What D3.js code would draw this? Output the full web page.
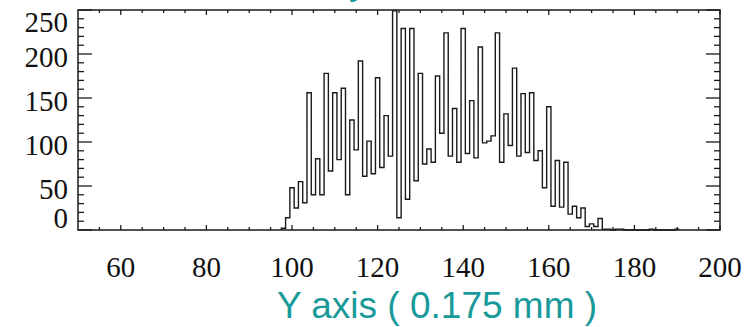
<!DOCTYPE html>
<html>
<head>
<meta charset="utf-8">
<script src="https://cdn.jsdelivr.net/npm/d3@7"></script>
<style>
    html, body { margin: 0; padding: 0; background: #fff; }
    svg { display: block; }
</style>
</head>
<body>
<svg id="chart"></svg>
<script>
// histogram bins (bin centre, count)
const binStart = 98;
const counts = [
    2, 14, 48, 25, 55, 31, 156, 40, 81, 40,
    178, 67, 156, 80, 161, 40, 125, 91, 192, 61,
    101, 64, 173, 71, 130, 84, 249, 14, 229, 35,
    229, 56, 178, 75, 92, 77, 175, 110, 224, 84,
    138, 77, 229, 87, 147, 82, 208, 99, 101, 107,
    224, 77, 132, 96, 184, 84, 155, 88, 156, 79,
    90, 48, 140, 27, 79, 26, 77, 18, 27, 14,
    25, 4, 7, 4, 13, 1, 1, 0, 1, 1,
    0, 0, 0, 0, 0, 0, 1, 0, 0, 0,
    0, 0, 1
];
const xTicks = [60, 80, 100, 120, 140, 160, 180, 200];
const yTicks = [0, 50, 100, 150, 200, 250];
const xTitle = 'Y axis ( 0.175 mm )';

const width = 755;
const height = 327;
const frame = { left: 78, right: 720, top: 10, bottom: 230 };

const svg = d3.select('#chart')
    .attr('width', width)
    .attr('height', height);

const x = d3.scaleLinear().domain([50, 200]).range([frame.left, frame.right]);
const y = d3.scaleLinear().domain([0, 250]).range([frame.bottom, frame.top]);

const teal = '#199a9a';
const serif = '"Liberation Serif", "Times New Roman", serif';

// step outline, edges half a unit either side of each bin centre
const bins = counts.map((c, i) => ({ edge: binStart + i - 0.5, value: c }));
const last = bins[bins.length - 1];
const steps = [{ edge: binStart - 0.5, value: 0 }, ...bins, { edge: last.edge + 1, value: last.value }];

const stepLine = d3.line()
    .x((d) => x(d.edge))
    .y((d) => y(d.value))
    .curve(d3.curveStepAfter);

svg.append('path')
    .datum(steps)
    .attr('d', stepLine)
    .attr('fill', 'none')
    .attr('stroke', '#1a1a1a')
    .attr('stroke-width', 1.4);

// axes: major + minor ticks on all four sides
const xMinor = d3.range(55, 200, 5).filter((v) => v % 20 !== 0);
const yMinor = d3.range(10, 250, 10).filter((v) => v % 50 !== 0);

const tickGroup = svg.append('g')
    .attr('stroke', '#1a1a1a')
    .attr('stroke-width', 1.3);

const addXTicks = (vals, len) => {
    tickGroup.selectAll(null).data(vals).join('line')
        .attr('x1', (d) => x(d)).attr('x2', (d) => x(d))
        .attr('y1', frame.bottom).attr('y2', frame.bottom - len);
    tickGroup.selectAll(null).data(vals).join('line')
        .attr('x1', (d) => x(d)).attr('x2', (d) => x(d))
        .attr('y1', frame.top).attr('y2', frame.top + len);
};
const addYTicks = (vals, len) => {
    tickGroup.selectAll(null).data(vals).join('line')
        .attr('x1', frame.left).attr('x2', frame.left + len)
        .attr('y1', (d) => y(d)).attr('y2', (d) => y(d));
    tickGroup.selectAll(null).data(vals).join('line')
        .attr('x1', frame.right).attr('x2', frame.right - len)
        .attr('y1', (d) => y(d)).attr('y2', (d) => y(d));
};

addXTicks(xTicks, 5);
addXTicks(xMinor, 3);
addYTicks(yTicks, 14);
addYTicks(yMinor, 6);

svg.append('rect')
    .attr('x', frame.left)
    .attr('y', frame.top)
    .attr('width', frame.right - frame.left)
    .attr('height', frame.bottom - frame.top)
    .attr('fill', 'none')
    .attr('stroke', '#1a1a1a')
    .attr('stroke-width', 1.5);

// tick labels
svg.append('g')
    .selectAll('text')
    .data(xTicks)
    .join('text')
    .attr('x', (d) => x(d))
    .attr('y', 277)
    .attr('text-anchor', 'middle')
    .style('font-family', serif)
    .style('font-size', '29px')
    .style('fill', '#111')
    .text((d) => d);

// labels sit a little below their tick, end ones pushed inside the frame
svg.append('g')
    .selectAll('text')
    .data(yTicks)
    .join('text')
    .attr('x', 68)
    .attr('y', (d) => Math.min(Math.max(y(d) + 3, frame.top + 12), frame.bottom - 12))
    .attr('dy', '0.33em')
    .attr('text-anchor', 'end')
    .style('font-family', serif)
    .style('font-size', '29px')
    .style('fill', '#111')
    .text((d) => d);

// axis title
svg.append('text')
    .attr('x', 277)
    .attr('y', 318)
    .style('font-family', '"Liberation Sans", Arial, sans-serif')
    .style('font-size', '37px')
    .style('fill', teal)
    .text(xTitle);

// descender of the cut-off title above the plot
svg.append('text')
    .attr('x', 349)
    .attr('y', -6)
    .style('font-family', '"Liberation Sans", Arial, sans-serif')
    .style('font-size', '37px')
    .style('fill', teal)
    .text('y');
</script>
</body>
</html>
